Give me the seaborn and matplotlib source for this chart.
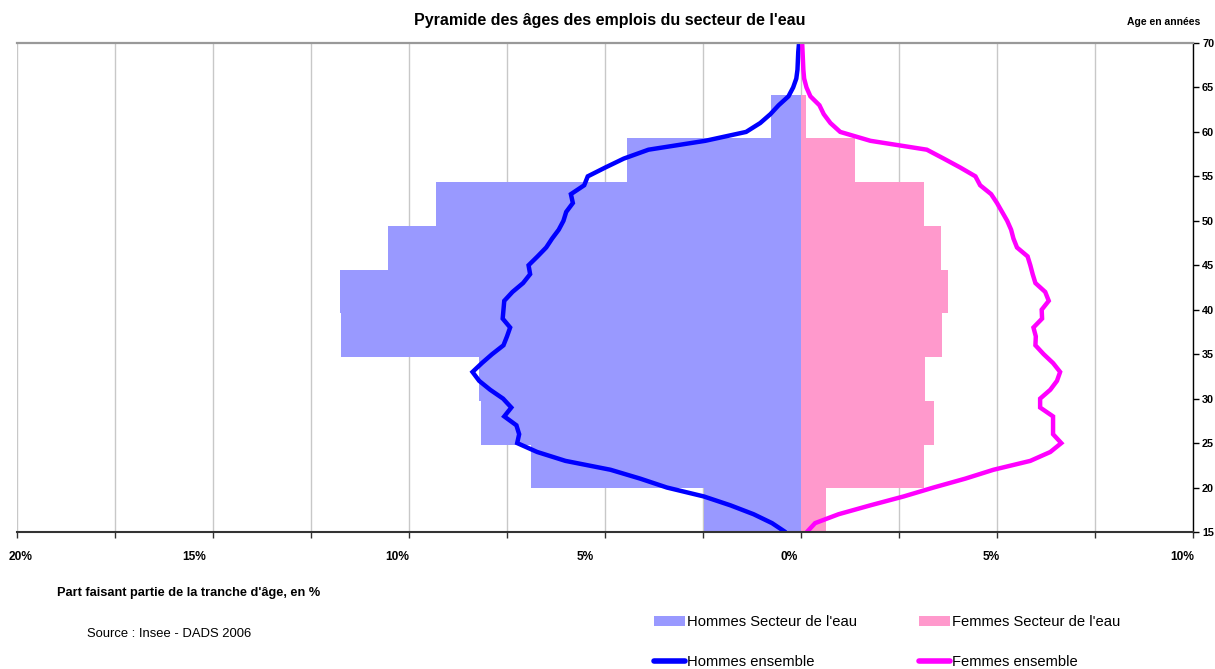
import numpy as np
import pandas as pd
import matplotlib
matplotlib.use("Agg")
import matplotlib.pyplot as plt
import matplotlib.transforms as mtransforms
from matplotlib.patches import Patch
from matplotlib.lines import Line2D
import seaborn as sns

# ---------------- data ----------------
band_labels = ['15-19', '20-24', '25-29', '30-34', '35-39', '40-44',
               '45-49', '50-54', '55-59', '60-64', '65-69']
men_sector = [2.48, 6.90, 8.16, 8.21, 11.73, 11.75, 10.53, 9.30, 4.43, 0.76, 0.0]
women_sector = [0.64, 3.14, 3.40, 3.17, 3.60, 3.75, 3.58, 3.14, 1.39, 0.13, 0.0]

ages = list(range(15, 71))
men_all = [0.40, 0.74, 1.21, 1.80, 2.48, 3.42, 4.10, 4.86, 6.01, 6.73,
           7.24, 7.19, 7.26, 7.57, 7.39, 7.60, 7.93, 8.21, 8.38, 8.14,
           7.88, 7.59, 7.50, 7.42, 7.61, 7.59, 7.57, 7.36, 7.09, 6.91,
           6.95, 6.72, 6.50, 6.35, 6.18, 6.06, 5.99, 5.82, 5.87, 5.53,
           5.44, 4.99, 4.52, 3.89, 2.44, 1.40, 1.04, 0.78, 0.57, 0.32,
           0.20, 0.12, 0.09, 0.08, 0.07, 0.05]
women_all = [0.15, 0.36, 0.96, 1.77, 2.62, 3.38, 4.19, 4.91, 5.85, 6.36,
             6.64, 6.43, 6.43, 6.43, 6.10, 6.10, 6.36, 6.53, 6.61, 6.43,
             6.19, 5.98, 5.99, 5.93, 6.15, 6.14, 6.32, 6.23, 5.98, 5.91,
             5.85, 5.78, 5.51, 5.42, 5.36, 5.26, 5.13, 5.00, 4.85, 4.57,
             4.45, 4.06, 3.64, 3.21, 1.77, 1.00, 0.75, 0.58, 0.47, 0.24,
             0.14, 0.08, 0.06, 0.05, 0.04, 0.03]

x_tick_values = [-20, -17.5, -15, -12.5, -10, -7.5, -5, -2.5, 0, 2.5, 5, 7.5, 10]
y_tick_values = [15, 20, 25, 30, 35, 40, 45, 50, 55, 60, 65, 70]

title = "Pyramide des âges des emplois du secteur de l'eau"
ylabel_txt = "Age en années"
xlabel_txt = "Part faisant partie de la tranche d'âge, en %"
source_txt = "Source : Insee - DADS 2006"
legend_labels = ["Hommes Secteur de l'eau", "Hommes ensemble",
                 "Femmes Secteur de l'eau", "Femmes ensemble"]

# ---------------- style ----------------
sns.set_theme(style="white")
FAM = ['Liberation Sans', 'DejaVu Sans']
plt.rcParams['font.family'] = FAM
plt.rcParams['text.color'] = 'black'
plt.rcParams['xtick.labelcolor'] = 'black'
plt.rcParams['ytick.labelcolor'] = 'black'

C_MEN_BAR = '#9999FF'
C_WOM_BAR = '#FF99CC'
C_MEN_LINE = '#0000FF'
C_WOM_LINE = '#FF00FF'

fig = plt.figure(figsize=(12.15, 6.69), dpi=100)
ax = fig.add_axes([17 / 1215, 1 - 532 / 669, (1193 - 17) / 1215, (532 - 43) / 669])

band_step = 4.92
centers = 15 + band_step * (np.arange(len(band_labels)) + 0.5)
bars = pd.DataFrame({'age': centers,
                     'men': -np.array(men_sector),
                     'women': np.array(women_sector)})

sns.barplot(data=bars, x='men', y='age', orient='y', native_scale=True,
            width=1, color=C_MEN_BAR, saturation=1, errorbar=None,
            linewidth=0, ax=ax)
sns.barplot(data=bars, x='women', y='age', orient='y', native_scale=True,
            width=1, color=C_WOM_BAR, saturation=1, errorbar=None,
            linewidth=0, ax=ax)

lines = pd.DataFrame({'age': ages,
                      'men': -np.array(men_all),
                      'women': np.array(women_all)})
sns.lineplot(data=lines, x='men', y='age', orient='y', sort=False,
             estimator=None, color=C_MEN_LINE, linewidth=3.2, ax=ax,
             solid_joinstyle='miter')
sns.lineplot(data=lines, x='women', y='age', orient='y', sort=False,
             estimator=None, color=C_WOM_LINE, linewidth=3.2, ax=ax,
             solid_joinstyle='miter')

ax.set_xlim(-20, 10)
ax.set_ylim(15, 70)
ax.set_xlabel('')
ax.set_ylabel('')

# grid & spines
ax.set_axisbelow(True)
ax.xaxis.grid(True, color='#C8C8C8', linewidth=1)
ax.yaxis.grid(False)
ax.spines['left'].set_visible(False)
ax.spines['top'].set_color('#999999')
ax.spines['top'].set_linewidth(1.6)
ax.spines['right'].set_color('black')
ax.spines['right'].set_linewidth(1)
ax.spines['bottom'].set_color('#333333')
ax.spines['bottom'].set_linewidth(1.5)

# x ticks
ax.set_xticks(x_tick_values)
xlabels = [f"{abs(v):g}%" if v % 5 == 0 else '' for v in x_tick_values]
ax.set_xticklabels(xlabels)
ax.tick_params(axis='x', bottom=True, direction='out', length=4, width=1,
               color='#333333', labelcolor='black', pad=10, labelsize=8.6)
offsets_px = {-20: 4, -15: -19, -10: -12, -5: -20, 0: -12, 5: -6, 10: -11}
for v, lab in zip(x_tick_values, ax.get_xticklabels()):
    lab.set_fontweight('bold')
    if v in offsets_px:
        lab.set_transform(lab.get_transform() + mtransforms.ScaledTranslation(
            offsets_px[v] / 100, 0, fig.dpi_scale_trans))

# y ticks on right
ax.yaxis.tick_right()
ax.set_yticks(y_tick_values)
ax.set_yticklabels([str(v) for v in y_tick_values])
ax.tick_params(axis='y', right=True, left=False, direction='out', length=4.5,
               width=1, color='black', labelcolor='black', pad=2, labelsize=7.8)
for lab in ax.get_yticklabels():
    lab.set_fontweight('bold')

# texts
fig.text(610 / 1215, 1 - 21 / 669, title, ha='center', va='center',
         fontsize=11.5, fontweight='bold', family=FAM, color='black')
fig.text(1200 / 1215, 1 - 22 / 669, ylabel_txt, ha='right', va='center',
         fontsize=7.5, fontweight='bold', family=FAM, color='black')
fig.text(57 / 1215, 1 - 593 / 669, xlabel_txt, ha='left', va='center',
         fontsize=9.2, fontweight='bold', family=FAM, color='black')
fig.text(87 / 1215, 1 - 634 / 669, source_txt, ha='left', va='center',
         fontsize=9.4, family=FAM, color='black')

# legend
handles = [Patch(facecolor=C_MEN_BAR, edgecolor='none'),
           Line2D([], [], color=C_MEN_LINE, linewidth=4),
           Patch(facecolor=C_WOM_BAR, edgecolor='none'),
           Line2D([], [], color=C_WOM_LINE, linewidth=4)]
leg = fig.legend(handles, legend_labels, ncol=2, loc='upper left',
                 bbox_to_anchor=(654 / 1215, 1 - 615 / 669), frameon=False,
                 fontsize=10.6, handlelength=2.1, handleheight=0.7,
                 handletextpad=0.15, columnspacing=4.2, labelspacing=1.75,
                 borderpad=0, borderaxespad=0)
for t in leg.get_texts():
    t.set_color('black')

fig.savefig('out.png', dpi=100)
